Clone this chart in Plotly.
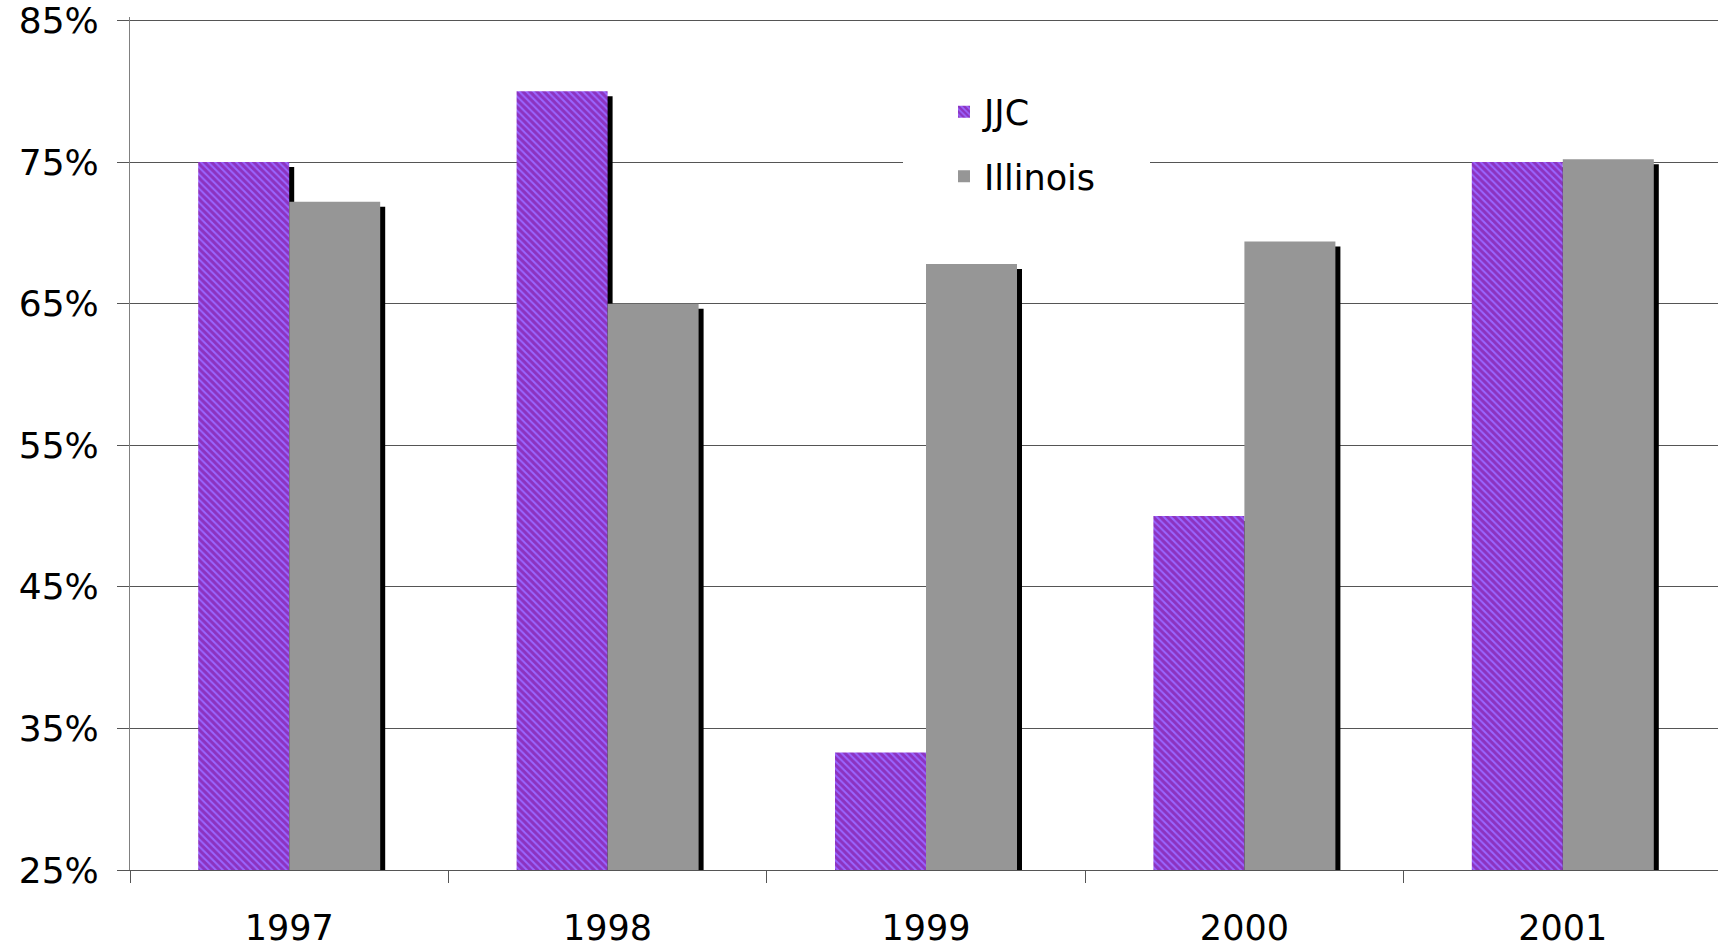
import plotly.graph_objects as go

years = ["1997", "1998", "1999", "2000", "2001"]
jjc = [75.0, 80.0, 33.3, 50.0, 75.0]
illinois = [72.2, 65.0, 67.8, 69.4, 75.2]
y_ticks = [25, 35, 45, 55, 65, 75, 85]
y_labels = ["25%", "35%", "45%", "55%", "65%", "75%", "85%"]

FONT = "DejaVu Sans"
W, H = 1718, 949
OFF = 0  # page body margin (removed via post_script)
cat_px = 318.4
ML = 130 - OFF
MR = 0
PW = W - ML - MR
x_lo = -0.5
x_hi = x_lo + PW / cat_px
y_lo, y_hi = 25, 85.25
px_per_unit = 849.5 / 60
MT = 21 - OFF - (y_hi - 85) * px_per_unit
PH = px_per_unit * (y_hi - y_lo)
MB = H - MT - PH
px_per_cat = cat_px

bar_w = 91 / px_per_cat
sh_dx = 5 / px_per_cat
sh_dy = 5 / px_per_unit

fig = go.Figure()
# shadows
fig.add_trace(go.Bar(x=years, y=[v - sh_dy for v in jjc], width=bar_w, offset=-bar_w + sh_dx,
                     marker=dict(color="black", line=dict(width=0)), showlegend=False, hoverinfo="skip"))
fig.add_trace(go.Bar(x=years, y=[v - sh_dy for v in illinois], width=bar_w, offset=sh_dx,
                     marker=dict(color="black", line=dict(width=0)), showlegend=False, hoverinfo="skip"))
# bars
fig.add_trace(go.Bar(name="JJC", x=years, y=jjc, width=bar_w, offset=-bar_w,
                     legendgroup="a",
                     marker=dict(color="#9966ff", line=dict(width=0),
                                 pattern=dict(shape="\\", fgcolor="#800080", bgcolor="#9966ff",
                                              size=5, solidity=0.6))))
fig.add_trace(go.Bar(name="Illinois", x=years, y=illinois, width=bar_w, offset=0,
                     legendgroup="b",
                     marker=dict(color="#969696", line=dict(width=0))))

y75 = (75 - y_lo) / (y_hi - y_lo)
fig.update_layout(
    width=W, height=H,
    margin=dict(l=ML, r=MR, t=MT, b=MB, autoexpand=False),
    barmode="overlay",
    plot_bgcolor="white", paper_bgcolor="white",
    font=dict(family=FONT, size=35, color="black"),
    showlegend=True,
    legend=dict(x=(944 - OFF - ML) / PW, y=1 - (83 - OFF - MT) / PH, xanchor="left", yanchor="top",
                bgcolor="rgba(0,0,0,0)", borderwidth=0, traceorder="grouped",
                tracegroupgap=16, font=dict(family=FONT, size=35, color="black")),
    shapes=[dict(type="rect", xref="paper", yref="paper", layer="above",
                 x0=(903 - OFF - ML) / PW, x1=(1150 - OFF - ML) / PW,
                 y0=y75 - 6 / PH, y1=y75 + 6 / PH,
                 fillcolor="white", line=dict(width=0))],
)
fig.update_xaxes(range=[x_lo, x_hi], type="category", showgrid=False, automargin=False,
                 showline=True, linecolor="#555555", linewidth=1,
                 ticks="outside", tickson="boundaries", ticklen=12, tickcolor="#555555",
                 ticklabelstandoff=27, ticklabeloverflow="allow",
                 tickfont=dict(family=FONT, size=35, color="black"))
fig.update_yaxes(range=[y_lo, y_hi], tickvals=y_ticks, ticktext=y_labels, automargin=False,
                 showgrid=True, gridcolor="#555555", gridwidth=1,
                 showline=True, linecolor="#808080", linewidth=1,
                 ticks="outside", ticklen=12, tickcolor="#555555",
                 ticklabelstandoff=11, ticklabeloverflow="allow", zeroline=False,
                 tickfont=dict(family=FONT, size=36, color="black"))

fig.write_html("out.html", config={"displayModeBar": False},
               post_script="document.body.style.margin='0';document.body.style.overflow='hidden';")
